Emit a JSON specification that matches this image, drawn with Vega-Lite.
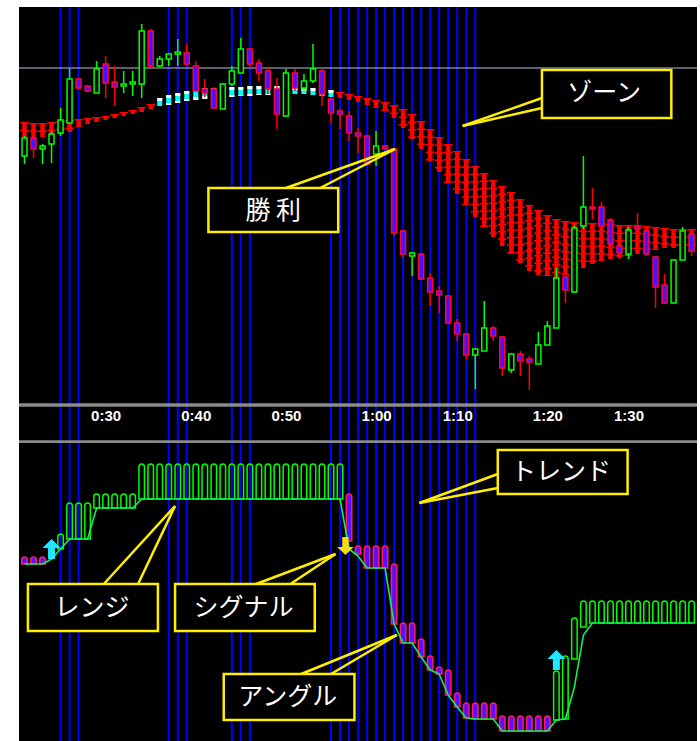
{
  "$schema": "https://vega.github.io/schema/vega-lite/v6.json",
  "padding": {"left": 17, "top": 6, "right": 5, "bottom": 0},
  "background": "#ffffff",
  "spacing": 0,
  "bounds": "flush",
  "config": {"view": {"fill": "#000000", "stroke": null}},
  "datasets": {
    "vlines": [{"i":4},{"i":5},{"i":6},{"i":16},{"i":17},{"i":18},{"i":23},{"i":24},{"i":25},{"i":34},{"i":35},{"i":36},{"i":37},{"i":38},{"i":39},{"i":40},{"i":41},{"i":42},{"i":43},{"i":44},{"i":45},{"i":46},{"i":47},{"i":48},{"i":49},{"i":50}],
    "bars": [
      {"i":0,"o":287,"h":307,"l":279,"c":305,"zu":321,"zl":306,"zs":"down"},
      {"i":1,"o":305,"h":307,"l":285,"c":294,"zu":320,"zl":305,"zs":"down"},
      {"i":2,"o":294,"h":299,"l":279,"c":297,"zu":320,"zl":306,"zs":"down"},
      {"i":3,"o":299,"h":312,"l":280,"c":309,"zu":321,"zl":307,"zs":"down"},
      {"i":4,"o":310,"h":335,"l":307,"c":323,"zu":322,"zl":309,"zs":"down"},
      {"i":5,"o":320,"h":374,"l":320,"c":364,"zu":323,"zl":311,"zs":"down"},
      {"i":6,"o":364,"h":365,"l":354,"c":355,"zu":324,"zl":316,"zs":"down"},
      {"i":7,"o":357,"h":358,"l":351,"c":352,"zu":325,"zl":319,"zs":"down"},
      {"i":8,"o":350,"h":382,"l":350,"c":374,"zu":326,"zl":321,"zs":"down"},
      {"i":9,"o":379,"h":387,"l":345,"c":360,"zu":327,"zl":323,"zs":"down"},
      {"i":10,"o":361,"h":377,"l":337,"c":356,"zu":329,"zl":325,"zs":"down"},
      {"i":11,"o":357,"h":372,"l":350,"c":359,"zu":331,"zl":327,"zs":"down"},
      {"i":12,"o":359,"h":372,"l":347,"c":361,"zu":333,"zl":329,"zs":"down"},
      {"i":13,"o":359,"h":419,"l":345,"c":412,"zu":336,"zl":331,"zs":"down"},
      {"i":14,"o":412,"h":414,"l":375,"c":377,"zu":339,"zl":334,"zs":"down"},
      {"i":15,"o":377,"h":387,"l":376,"c":384,"zu":345,"zl":337,"zs":"up"},
      {"i":16,"o":384,"h":390,"l":377,"c":389,"zu":348,"zl":338,"zs":"up"},
      {"i":17,"o":389,"h":404,"l":377,"c":391,"zu":350,"zl":340,"zs":"up"},
      {"i":18,"o":390,"h":399,"l":378,"c":379,"zu":352,"zl":342,"zs":"up"},
      {"i":19,"o":377,"h":382,"l":351,"c":352,"zu":354,"zl":343,"zs":"up"},
      {"i":20,"o":354,"h":364,"l":346,"c":350,"zu":355,"zl":344,"zs":"up"},
      {"i":21,"o":354,"h":356,"l":334,"c":335,"zu":355,"zl":345,"zs":"up"},
      {"i":22,"o":334,"h":360,"l":334,"c":359,"zu":356,"zl":346,"zs":"up"},
      {"i":23,"o":359,"h":377,"l":357,"c":372,"zu":356,"zl":346,"zs":"up"},
      {"i":24,"o":370,"h":405,"l":370,"c":394,"zu":356,"zl":347,"zs":"up"},
      {"i":25,"o":394,"h":395,"l":375,"c":379,"zu":357,"zl":347,"zs":"up"},
      {"i":26,"o":380,"h":384,"l":362,"c":370,"zu":357,"zl":348,"zs":"up"},
      {"i":27,"o":372,"h":375,"l":349,"c":354,"zu":357,"zl":348,"zs":"up"},
      {"i":28,"o":354,"h":365,"l":314,"c":329,"zu":357,"zl":349,"zs":"up"},
      {"i":29,"o":327,"h":374,"l":326,"c":370,"zu":357,"zl":349,"zs":"up"},
      {"i":30,"o":370,"h":374,"l":352,"c":355,"zu":356,"zl":349,"zs":"up"},
      {"i":31,"o":355,"h":369,"l":352,"c":362,"zu":355,"zl":349,"zs":"up"},
      {"i":32,"o":362,"h":399,"l":360,"c":374,"zu":355,"zl":348,"zs":"up"},
      {"i":33,"o":372,"h":374,"l":337,"c":349,"zu":354,"zl":347,"zs":"up"},
      {"i":34,"o":344,"h":345,"l":320,"c":330,"zu":353,"zl":346,"zs":"up"},
      {"i":35,"o":332,"h":334,"l":314,"c":329,"zu":351,"zl":345,"zs":"down"},
      {"i":36,"o":327,"h":332,"l":302,"c":310,"zu":349,"zl":343,"zs":"down"},
      {"i":37,"o":310,"h":315,"l":290,"c":307,"zu":347,"zl":341,"zs":"down"},
      {"i":38,"o":307,"h":308,"l":277,"c":279,"zu":345,"zl":338,"zs":"down"},
      {"i":39,"o":289,"h":312,"l":277,"c":297,"zu":343,"zl":335,"zs":"down"},
      {"i":40,"o":297,"h":298,"l":293,"c":294,"zu":341,"zl":332,"zs":"down"},
      {"i":41,"o":294,"h":295,"l":207,"c":210,"zu":338,"zl":325,"zs":"down"},
      {"i":42,"o":212,"h":213,"l":185,"c":189,"zu":334,"zl":315,"zs":"down"},
      {"i":43,"o":187,"h":191,"l":167,"c":190,"zu":329,"zl":304,"zs":"down"},
      {"i":44,"o":189,"h":190,"l":163,"c":164,"zu":322,"zl":294,"zs":"down"},
      {"i":45,"o":165,"h":170,"l":137,"c":151,"zu":314,"zl":282,"zs":"down"},
      {"i":46,"o":152,"h":157,"l":130,"c":148,"zu":306,"zl":271,"zs":"down"},
      {"i":47,"o":147,"h":148,"l":119,"c":120,"zu":299,"zl":260,"zs":"down"},
      {"i":48,"o":120,"h":124,"l":102,"c":109,"zu":292,"zl":249,"zs":"down"},
      {"i":49,"o":109,"h":110,"l":84,"c":88,"zu":284,"zl":238,"zs":"down"},
      {"i":50,"o":88,"h":95,"l":54,"c":94,"zu":277,"zl":226,"zs":"down"},
      {"i":51,"o":92,"h":142,"l":92,"c":115,"zu":270,"zl":216,"zs":"down"},
      {"i":52,"o":115,"h":117,"l":102,"c":107,"zu":263,"zl":206,"zs":"down"},
      {"i":53,"o":106,"h":107,"l":67,"c":75,"zu":257,"zl":197,"zs":"down"},
      {"i":54,"o":73,"h":90,"l":70,"c":89,"zu":251,"zl":189,"zs":"down"},
      {"i":55,"o":89,"h":92,"l":67,"c":82,"zu":244,"zl":180,"zs":"down"},
      {"i":56,"o":84,"h":87,"l":53,"c":81,"zu":238,"zl":172,"zs":"down"},
      {"i":57,"o":79,"h":111,"l":79,"c":98,"zu":233,"zl":168,"zs":"down"},
      {"i":58,"o":98,"h":122,"l":98,"c":117,"zu":228,"zl":167,"zs":"down"},
      {"i":59,"o":115,"h":175,"l":115,"c":165,"zu":224,"zl":165,"zs":"down"},
      {"i":60,"o":166,"h":167,"l":140,"c":153,"zu":222,"zl":168,"zs":"down"},
      {"i":61,"o":151,"h":217,"l":150,"c":215,"zu":221,"zl":171,"zs":"down"},
      {"i":62,"o":217,"h":287,"l":214,"c":236,"zu":220,"zl":175,"zs":"down"},
      {"i":63,"o":236,"h":255,"l":224,"c":234,"zu":220,"zl":179,"zs":"down"},
      {"i":64,"o":236,"h":241,"l":215,"c":217,"zu":220,"zl":182,"zs":"down"},
      {"i":65,"o":223,"h":225,"l":197,"c":199,"zu":219,"zl":184,"zs":"down"},
      {"i":66,"o":197,"h":198,"l":184,"c":190,"zu":218,"zl":185,"zs":"down"},
      {"i":67,"o":189,"h":216,"l":184,"c":213,"zu":218,"zl":187,"zs":"down"},
      {"i":68,"o":216,"h":230,"l":207,"c":214,"zu":218,"zl":189,"zs":"down"},
      {"i":69,"o":212,"h":213,"l":187,"c":189,"zu":217,"zl":191,"zs":"down"},
      {"i":70,"o":186,"h":187,"l":135,"c":156,"zu":216,"zl":193,"zs":"down"},
      {"i":71,"o":158,"h":169,"l":139,"c":140,"zu":215,"zl":195,"zs":"down"},
      {"i":72,"o":140,"h":184,"l":140,"c":183,"zu":214,"zl":195,"zs":"down"},
      {"i":73,"o":183,"h":216,"l":183,"c":212,"zu":214,"zl":194,"zs":"down"},
      {"i":74,"o":209,"h":212,"l":187,"c":192,"zu":214,"zl":192,"zs":"down"}
    ],
    "trend": [
      {"i":0,"w":178,"ft":185,"fb":178,"fd":"down"},
      {"i":1,"w":178,"ft":185,"fb":178,"fd":"down"},
      {"i":2,"w":178,"ft":185,"fb":178,"fd":"down"},
      {"i":3,"w":183,"ft":null,"fb":null,"fd":null},
      {"i":4,"w":193,"ft":208,"fb":193,"fd":"up"},
      {"i":5,"w":203,"ft":239,"fb":203,"fd":"up"},
      {"i":6,"w":203,"ft":239,"fb":203,"fd":"up"},
      {"i":7,"w":203,"ft":239,"fb":203,"fd":"up"},
      {"i":8,"w":234,"ft":248,"fb":234,"fd":"up"},
      {"i":9,"w":234,"ft":248,"fb":234,"fd":"up"},
      {"i":10,"w":234,"ft":248,"fb":234,"fd":"up"},
      {"i":11,"w":234,"ft":248,"fb":234,"fd":"up"},
      {"i":12,"w":234,"ft":248,"fb":234,"fd":"up"},
      {"i":13,"w":243,"ft":278,"fb":243,"fd":"up"},
      {"i":14,"w":243,"ft":278,"fb":243,"fd":"up"},
      {"i":15,"w":243,"ft":278,"fb":243,"fd":"up"},
      {"i":16,"w":243,"ft":278,"fb":243,"fd":"up"},
      {"i":17,"w":243,"ft":278,"fb":243,"fd":"up"},
      {"i":18,"w":243,"ft":278,"fb":243,"fd":"up"},
      {"i":19,"w":243,"ft":278,"fb":243,"fd":"up"},
      {"i":20,"w":243,"ft":278,"fb":243,"fd":"up"},
      {"i":21,"w":243,"ft":278,"fb":243,"fd":"up"},
      {"i":22,"w":243,"ft":278,"fb":243,"fd":"up"},
      {"i":23,"w":243,"ft":278,"fb":243,"fd":"up"},
      {"i":24,"w":243,"ft":278,"fb":243,"fd":"up"},
      {"i":25,"w":243,"ft":278,"fb":243,"fd":"up"},
      {"i":26,"w":243,"ft":278,"fb":243,"fd":"up"},
      {"i":27,"w":243,"ft":278,"fb":243,"fd":"up"},
      {"i":28,"w":243,"ft":278,"fb":243,"fd":"up"},
      {"i":29,"w":243,"ft":278,"fb":243,"fd":"up"},
      {"i":30,"w":243,"ft":278,"fb":243,"fd":"up"},
      {"i":31,"w":243,"ft":278,"fb":243,"fd":"up"},
      {"i":32,"w":243,"ft":278,"fb":243,"fd":"up"},
      {"i":33,"w":243,"ft":278,"fb":243,"fd":"up"},
      {"i":34,"w":243,"ft":278,"fb":243,"fd":"up"},
      {"i":35,"w":243,"ft":278,"fb":243,"fd":"up"},
      {"i":36,"w":193,"ft":248,"fb":201,"fd":"down"},
      {"i":37,"w":186,"ft":196,"fb":188,"fd":"down"},
      {"i":38,"w":174,"ft":196,"fb":174,"fd":"down"},
      {"i":39,"w":174,"ft":196,"fb":174,"fd":"down"},
      {"i":40,"w":174,"ft":196,"fb":174,"fd":"down"},
      {"i":41,"w":118,"ft":178,"fb":118,"fd":"down"},
      {"i":42,"w":99,"ft":119,"fb":99,"fd":"down"},
      {"i":43,"w":99,"ft":119,"fb":99,"fd":"down"},
      {"i":44,"w":85,"ft":103,"fb":85,"fd":"down"},
      {"i":45,"w":72,"ft":86,"fb":72,"fd":"down"},
      {"i":46,"w":68,"ft":75,"fb":68,"fd":"down"},
      {"i":47,"w":47,"ft":72,"fb":47,"fd":"down"},
      {"i":48,"w":35,"ft":49,"fb":35,"fd":"down"},
      {"i":49,"w":24,"ft":39,"fb":24,"fd":"down"},
      {"i":50,"w":23,"ft":39,"fb":23,"fd":"down"},
      {"i":51,"w":23,"ft":39,"fb":23,"fd":"down"},
      {"i":52,"w":23,"ft":39,"fb":23,"fd":"down"},
      {"i":53,"w":11,"ft":26,"fb":11,"fd":"down"},
      {"i":54,"w":11,"ft":26,"fb":11,"fd":"down"},
      {"i":55,"w":11,"ft":26,"fb":11,"fd":"down"},
      {"i":56,"w":11,"ft":26,"fb":11,"fd":"down"},
      {"i":57,"w":11,"ft":26,"fb":11,"fd":"down"},
      {"i":58,"w":11,"ft":26,"fb":11,"fd":"down"},
      {"i":59,"w":22,"ft":71,"fb":22,"fd":"up"},
      {"i":60,"w":23,"ft":86,"fb":23,"fd":"up"},
      {"i":61,"w":55,"ft":124,"fb":83,"fd":"up"},
      {"i":62,"w":107,"ft":141,"fb":115,"fd":"up"},
      {"i":63,"w":119,"ft":141,"fb":119,"fd":"up"},
      {"i":64,"w":119,"ft":141,"fb":119,"fd":"up"},
      {"i":65,"w":119,"ft":141,"fb":119,"fd":"up"},
      {"i":66,"w":119,"ft":141,"fb":119,"fd":"up"},
      {"i":67,"w":119,"ft":141,"fb":119,"fd":"up"},
      {"i":68,"w":119,"ft":141,"fb":119,"fd":"up"},
      {"i":69,"w":119,"ft":141,"fb":119,"fd":"up"},
      {"i":70,"w":119,"ft":141,"fb":119,"fd":"up"},
      {"i":71,"w":119,"ft":141,"fb":119,"fd":"up"},
      {"i":72,"w":119,"ft":141,"fb":119,"fd":"up"},
      {"i":73,"w":119,"ft":141,"fb":119,"fd":"up"},
      {"i":74,"w":119,"ft":141,"fb":119,"fd":"up"}
    ],
    "arrows": [
      {"i":3,"w":193,"d":"up"},
      {"i":59,"w":82,"d":"up"},
      {"i":35.6,"w":196,"d":"down"}
    ],
    "boxes": [
      {"p":"top","label":"ゾーン","i":57.4,"i2":71.75,"v":373,"v2":325,"ti":64.3,"tv":350},
      {"p":"top","label":"勝 利","i":20.4,"i2":34.8,"v":255,"v2":211,"ti":27.6,"tv":232},
      {"p":"bottom","label":"トレンド","i":52.5,"i2":66.9,"v":292,"v2":248,"ti":59.5,"tv":270},
      {"p":"bottom","label":"レンジ","i":0.38,"i2":14.8,"v":158,"v2":111,"ti":7.5,"tv":134},
      {"p":"bottom","label":"シグナル","i":16.7,"i2":32.2,"v":158,"v2":111,"ti":24.3,"tv":134},
      {"p":"bottom","label":"アングル","i":22.1,"i2":36.6,"v":68,"v2":22,"ti":29.2,"tv":45}
    ],
    "pointers": [
      {"p":"top","i":57.4,"v":345,"i2":48.6,"v2":317},
      {"p":"top","i":57.4,"v":335,"i2":48.6,"v2":317},
      {"p":"top","i":29.0,"v":255,"i2":41.1,"v2":294},
      {"p":"top","i":32.8,"v":255,"i2":41.1,"v2":294},
      {"p":"bottom","i":52.5,"v":268,"i2":43.8,"v2":239},
      {"p":"bottom","i":52.5,"v":254,"i2":43.8,"v2":239},
      {"p":"bottom","i":8.8,"v":158,"i2":16.7,"v2":236},
      {"p":"bottom","i":12.6,"v":158,"i2":16.7,"v2":236},
      {"p":"bottom","i":25.7,"v":158,"i2":34.5,"v2":188},
      {"p":"bottom","i":29.5,"v":158,"i2":34.5,"v2":188},
      {"p":"bottom","i":30.7,"v":68,"i2":41.3,"v2":107},
      {"p":"bottom","i":34.0,"v":68,"i2":41.3,"v2":107}
    ]
  },
  "vconcat": [
    {
      "width": 678,
      "height": 436,
      "layer": [
        {
          "data": {"name": "vlines"},
          "mark": {"type": "rule", "color": "#0000ff", "strokeWidth": 2},
          "encoding": {
            "x": {"field": "i", "type": "quantitative", "title": null,
              "scale": {"domain": [-0.055, 74.044], "nice": false, "zero": false},
              "axis": {"values": [9, 19, 29, 39, 48, 58, 67],
                "labelExpr": "datum.value==9?'0:30':datum.value==19?'0:40':datum.value==29?'0:50':datum.value==39?'1:00':datum.value==48?'1:10':datum.value==58?'1:20':'1:30'",
                "domain": false, "ticks": false, "grid": false, "offset": -37, "labelPadding": 2,
                "labelColor": "#ffffff", "labelFont": "Liberation Sans", "labelFontSize": 15, "labelFontWeight": "bold",
                "labelOverlap": false, "labelFlush": false, "labelBound": false, "zindex": 1}}
          }
        },
        {
          "data": {"name": "bars"},
          "transform": [{"filter": "datum.zs == 'down'"}],
          "mark": {"type": "rule", "color": "#ff0000", "strokeWidth": 4.5, "clip": true},
          "encoding": {
            "x": {"field": "i", "type": "quantitative", "title": null},
            "y": {"field": "zu", "type": "quantitative", "axis": null, "scale": {"domain": [0, 436], "nice": false, "zero": false}},
            "y2": {"field": "zl"}
          }
        },
        {
          "data": {"name": "bars"},
          "transform": [{"filter": "datum.zs == 'down'"}],
          "mark": {"type": "rule", "color": "#ff0000", "strokeWidth": 8.5, "strokeDash": [1.5, 6], "clip": true},
          "encoding": {
            "x": {"field": "i", "type": "quantitative", "title": null},
            "y": {"field": "zu", "type": "quantitative", "axis": null},
            "y2": {"field": "zl"}
          }
        },
        {
          "data": {"name": "bars"},
          "transform": [{"filter": "datum.zs == 'up'"}],
          "mark": {"type": "rule", "color": "#00ffff", "strokeWidth": 5, "clip": true},
          "encoding": {
            "x": {"field": "i", "type": "quantitative", "title": null},
            "y": {"field": "zu", "type": "quantitative", "axis": null},
            "y2": {"field": "zl"}
          }
        },
        {
          "data": {"name": "bars"},
          "transform": [{"filter": "datum.zs == 'up'"}],
          "mark": {"type": "rule", "color": "#ffffff", "strokeWidth": 5, "strokeDash": [3, 5], "clip": true},
          "encoding": {
            "x": {"field": "i", "type": "quantitative", "title": null},
            "y": {"field": "zu", "type": "quantitative", "axis": null},
            "y2": {"field": "zl"}
          }
        },
        {
          "data": {"values": [{"v": 375}]},
          "mark": {"type": "rule", "color": "#b4c2d6", "strokeWidth": 1.2},
          "encoding": {"y": {"field": "v", "type": "quantitative", "axis": null}}
        },
        {
          "data": {"name": "bars"},
          "mark": {"type": "rule", "strokeWidth": 1.5, "clip": true},
          "encoding": {
            "x": {"field": "i", "type": "quantitative", "title": null},
            "y": {"field": "l", "type": "quantitative", "axis": null},
            "y2": {"field": "h"},
            "color": {"condition": {"test": "datum.c >= datum.o", "value": "#00ff00"}, "value": "#ff0000"}
          }
        },
        {
          "data": {"name": "bars"},
          "mark": {"type": "bar", "width": 5, "strokeWidth": 1.5, "clip": true},
          "encoding": {
            "x": {"field": "i", "type": "quantitative", "title": null},
            "y": {"field": "o", "type": "quantitative", "axis": null},
            "y2": {"field": "c"},
            "fill": {"condition": {"test": "datum.c >= datum.o", "value": "#000000"}, "value": "#4a10ff"},
            "stroke": {"condition": {"test": "datum.c >= datum.o", "value": "#00ff00"}, "value": "#ff0040"}
          }
        },
        {
          "data": {"values": [{"v": 38}, {"v": 1}]},
          "mark": {"type": "rule", "color": "#8a8a8a", "strokeWidth": 3.5},
          "encoding": {"y": {"field": "v", "type": "quantitative", "axis": null}}
        },
        {
          "data": {"name": "pointers"},
          "transform": [{"filter": "datum.p == 'top'"}],
          "mark": {"type": "rule", "color": "#ffee00", "strokeWidth": 2.5},
          "encoding": {
            "x": {"field": "i", "type": "quantitative", "title": null},
            "x2": {"field": "i2"},
            "y": {"field": "v", "type": "quantitative", "axis": null},
            "y2": {"field": "v2"}
          }
        },
        {
          "data": {"name": "boxes"},
          "transform": [{"filter": "datum.p == 'top'"}],
          "mark": {"type": "rect", "fill": "#000000", "stroke": "#ffee00", "strokeWidth": 2.5},
          "encoding": {
            "x": {"field": "i", "type": "quantitative", "title": null},
            "x2": {"field": "i2"},
            "y": {"field": "v", "type": "quantitative", "axis": null},
            "y2": {"field": "v2"}
          }
        },
        {
          "data": {"name": "boxes"},
          "transform": [{"filter": "datum.p == 'top'"}],
          "mark": {"type": "text", "color": "#ffffff", "font": "Noto Sans CJK JP", "fontSize": 25, "align": "center", "baseline": "middle"},
          "encoding": {
            "x": {"field": "ti", "type": "quantitative", "title": null},
            "y": {"field": "tv", "type": "quantitative", "axis": null},
            "text": {"field": "label"}
          }
        }
      ]
    },
    {
      "width": 678,
      "height": 299,
      "layer": [
        {
          "data": {"name": "vlines"},
          "mark": {"type": "rule", "color": "#0000ff", "strokeWidth": 2},
          "encoding": {
            "x": {"field": "i", "type": "quantitative", "axis": null,
              "scale": {"domain": [-0.055, 74.044], "nice": false, "zero": false}}
          }
        },
        {
          "data": {"name": "trend"},
          "transform": [{"filter": "datum.ft != null"}],
          "mark": {"type": "bar", "width": 5.5, "strokeWidth": 1.5, "cornerRadiusTopLeft": 2.75, "cornerRadiusTopRight": 2.75, "clip": true},
          "encoding": {
            "x": {"field": "i", "type": "quantitative", "axis": null},
            "y": {"field": "ft", "type": "quantitative", "axis": null, "scale": {"domain": [0, 299], "nice": false, "zero": false}},
            "y2": {"field": "fb"},
            "fill": {"condition": {"test": "datum.fd == 'up'", "value": "rgba(0,0,0,0)"}, "value": "#5a10ff"},
            "stroke": {"condition": {"test": "datum.fd == 'up'", "value": "#00ff00"}, "value": "#ff1a66"}
          }
        },
        {
          "data": {"name": "trend"},
          "mark": {"type": "line", "color": "#10f050", "strokeWidth": 1.6, "clip": true},
          "encoding": {
            "x": {"field": "i", "type": "quantitative", "axis": null},
            "y": {"field": "w", "type": "quantitative", "axis": null}
          }
        },
        {
          "data": {"name": "arrows"},
          "transform": [{"filter": "datum.d == 'up'"}],
          "mark": {"type": "point", "shape": "M0,-1L0.9,-0.1L0.35,-0.1L0.35,1L-0.35,1L-0.35,-0.1L-0.9,-0.1Z", "filled": true, "color": "#22e6ff", "opacity": 1, "size": 400},
          "encoding": {
            "x": {"field": "i", "type": "quantitative", "axis": null},
            "y": {"field": "w", "type": "quantitative", "axis": null}
          }
        },
        {
          "data": {"name": "arrows"},
          "transform": [{"filter": "datum.d == 'down'"}],
          "mark": {"type": "point", "shape": "M0,1L0.9,0.1L0.35,0.1L0.35,-1L-0.35,-1L-0.35,0.1L-0.9,0.1Z", "filled": true, "color": "#ffdd00", "opacity": 1, "size": 330},
          "encoding": {
            "x": {"field": "i", "type": "quantitative", "axis": null},
            "y": {"field": "w", "type": "quantitative", "axis": null}
          }
        },
        {
          "data": {"name": "pointers"},
          "transform": [{"filter": "datum.p == 'bottom'"}],
          "mark": {"type": "rule", "color": "#ffee00", "strokeWidth": 2.5},
          "encoding": {
            "x": {"field": "i", "type": "quantitative", "axis": null},
            "x2": {"field": "i2"},
            "y": {"field": "v", "type": "quantitative", "axis": null},
            "y2": {"field": "v2"}
          }
        },
        {
          "data": {"name": "boxes"},
          "transform": [{"filter": "datum.p == 'bottom'"}],
          "mark": {"type": "rect", "fill": "#000000", "stroke": "#ffee00", "strokeWidth": 2.5},
          "encoding": {
            "x": {"field": "i", "type": "quantitative", "axis": null},
            "x2": {"field": "i2"},
            "y": {"field": "v", "type": "quantitative", "axis": null},
            "y2": {"field": "v2"}
          }
        },
        {
          "data": {"name": "boxes"},
          "transform": [{"filter": "datum.p == 'bottom'"}],
          "mark": {"type": "text", "color": "#ffffff", "font": "Noto Sans CJK JP", "fontSize": 25, "align": "center", "baseline": "middle"},
          "encoding": {
            "x": {"field": "ti", "type": "quantitative", "axis": null},
            "y": {"field": "tv", "type": "quantitative", "axis": null},
            "text": {"field": "label"}
          }
        }
      ]
    }
  ]
}
